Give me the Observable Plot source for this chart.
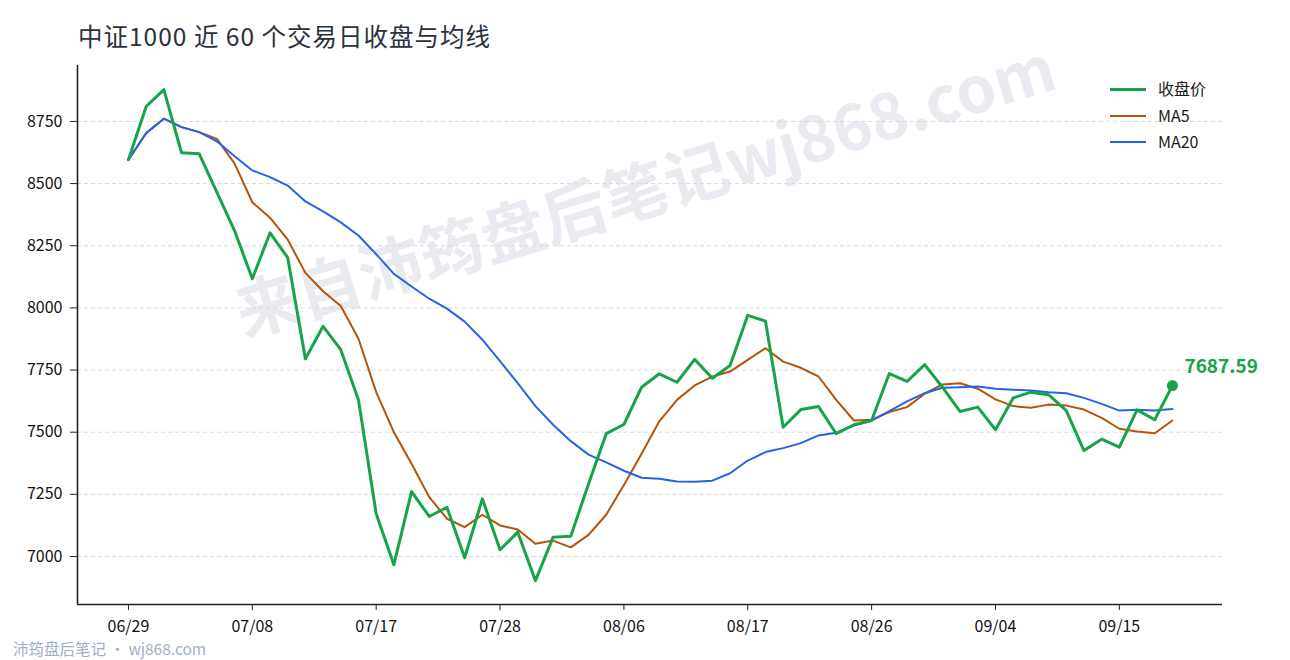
<!DOCTYPE html>
<html>
<head>
<meta charset="utf-8">
<script src="https://cdn.jsdelivr.net/npm/d3@7"></script>
<script src="https://cdn.jsdelivr.net/npm/@observablehq/plot@0.6"></script>
<style>
  html, body { margin: 0; padding: 0; background: #fff; }
  #wrap { position: relative; width: 1290px; height: 660px; overflow: hidden; font-family: "Noto Sans CJK SC", "Noto Sans", sans-serif; }
  #chart { position: absolute; left: 0; top: 0; }
  .title { position: absolute; left: 78px; top: 21px; font-size: 24.5px; letter-spacing: 1px; line-height: 30px; color: #2b313c; white-space: nowrap; }
  .footer { position: absolute; left: 13px; top: 638px; font-size: 15.5px; line-height: 20px; color: #a1afc6; white-space: nowrap; }
  .legend { position: absolute; left: 1110px; top: 0; }
  .legend .row { position: absolute; left: 0; height: 24px; width: 160px; }
  .legend .sw { position: absolute; left: 0; width: 36px; }
  .legend .lb { position: absolute; left: 48px; top: -1px; font-size: 16px; line-height: 24px; color: #1a1a1a; white-space: nowrap; }
</style>
</head>
<body>
<div id="wrap">
  <div id="chart"></div>
  <div class="title">中证1000 近 60 个交易日收盘与均线</div>
  <div class="legend" id="legend"></div>
  <div class="footer">沛筠盘后笔记 · wj868.com</div>
</div>
<script>
const dates = [
  "06/29","06/30","07/01","07/02","07/03",
  "07/06","07/07","07/08","07/09","07/10",
  "07/13","07/14","07/15","07/16","07/17",
  "07/20","07/21","07/22","07/23","07/24",
  "07/27","07/28","07/29","07/30","07/31",
  "08/03","08/04","08/05","08/06","08/07",
  "08/10","08/11","08/12","08/13","08/14",
  "08/17","08/18","08/19","08/20","08/21",
  "08/24","08/25","08/26","08/27","08/28",
  "08/31","09/01","09/02","09/03","09/04",
  "09/07","09/08","09/09","09/10","09/11",
  "09/14","09/15","09/16","09/17","09/18"
];
const close = [
  8596, 8810, 8878, 8624, 8620, 8465, 8310, 8117, 8302, 8202,
  7795, 7926, 7832, 7630, 7172, 6967, 7261, 7161, 7198, 6995,
  7232, 7027, 7098, 6903, 7078, 7082, 7292, 7494, 7531, 7681,
  7735, 7701, 7793, 7717, 7768, 7970, 7947, 7520, 7591, 7603,
  7494, 7530, 7547, 7736, 7704, 7772, 7681, 7583, 7601, 7510,
  7638, 7661, 7651, 7587, 7426, 7472, 7440, 7590, 7550, 7687.59
];
const ma5 = [
  8596, 8703, 8761, 8727, 8707, 8680, 8580, 8425, 8363, 8275,
  8141, 8067, 8008, 7876, 7661, 7500, 7373, 7239, 7152, 7118,
  7168, 7125, 7109, 7051, 7064, 7037, 7087, 7168, 7288, 7413,
  7544, 7630, 7688, 7724, 7744, 7791, 7838, 7784, 7759, 7724,
  7630, 7547, 7550, 7581, 7601, 7655, 7692, 7697, 7675, 7632,
  7605, 7598, 7611, 7607, 7591, 7558, 7514, 7503, 7496, 7547
];
const ma20 = [
  8596, 8703, 8761, 8727, 8707, 8670, 8610, 8553, 8526, 8492,
  8428, 8388, 8344, 8291, 8216, 8137, 8086, 8037, 7997, 7945,
  7872, 7786, 7697, 7605, 7530, 7464, 7410, 7379, 7345, 7317,
  7313, 7302, 7301, 7305, 7335, 7386, 7420, 7436, 7456, 7487,
  7498, 7527, 7547, 7585, 7624, 7657, 7679, 7681, 7684, 7675,
  7671, 7668, 7661, 7657, 7638, 7614, 7587, 7590, 7587, 7593
];
const yTicks = [7000, 7250, 7500, 7750, 8000, 8250, 8500, 8750];
const xTickIdx = [0, 7, 14, 21, 28, 35, 42, 49, 56];
const seriesNames = ["收盘价", "MA5", "MA20"];
const seriesColors = ["#16a34a", "#b45309", "#2563eb"];
const seriesWidths = [3, 2, 2];
const watermark = "来自沛筠盘后笔记wj868.com";

const idx = d3.range(close.length);
const rows = idx.map(i => ({i, date: dates[i], close: close[i], ma5: ma5[i], ma20: ma20[i]}));
const last = rows[rows.length - 1];
const xDomain = [-2.88, 61.83];
const yDomain = [6807, 8975];

const chart = Plot.plot({
  width: 1290,
  height: 660,
  marginLeft: 77,
  marginRight: 68,
  marginTop: 65,
  marginBottom: 56,
  style: {fontFamily: "'Noto Sans CJK SC', 'Noto Sans', sans-serif", fontSize: "16px", color: "#111", background: "transparent"},
  x: {type: "linear", domain: xDomain},
  y: {domain: yDomain},
  marks: [
    Plot.text([watermark], {frameAnchor: "middle", text: d => d, rotate: -17, fontSize: 64, fontWeight: 700, fill: "#e9ebf1", dx: -4, dy: -142}),
    Plot.gridY(yTicks, {stroke: "#d9d9d9", strokeOpacity: 1, strokeDasharray: "4,3", strokeWidth: 1}),
    Plot.axisY(yTicks, {tickSize: 7, tickPadding: 8, label: null, fontSize: 16, stroke: "#222", tickFormat: d => String(d)}),
    Plot.axisX(xTickIdx, {tickSize: 6, tickPadding: 10, label: null, fontSize: 16, tickFormat: i => dates[i], stroke: "#222"}),
    Plot.ruleX([xDomain[0]], {stroke: "#222", strokeWidth: 1.6}),
    Plot.ruleY([yDomain[0]], {stroke: "#222", strokeWidth: 1.6}),
    Plot.line(rows, {x: "i", y: "ma5", stroke: seriesColors[1], strokeWidth: seriesWidths[1]}),
    Plot.line(rows, {x: "i", y: "ma20", stroke: seriesColors[2], strokeWidth: seriesWidths[2]}),
    Plot.line(rows, {x: "i", y: "close", stroke: seriesColors[0], strokeWidth: seriesWidths[0]}),
    Plot.dot([last], {x: "i", y: "close", r: 5.5, fill: seriesColors[0]}),
    Plot.text([last], {x: "i", y: "close", text: d => d.close.toFixed(2), textAnchor: "start", dx: 12, dy: -19, fontSize: 19, fontWeight: 700, fill: seriesColors[0]})
  ]
});
document.getElementById("chart").appendChild(chart);

const legend = document.getElementById("legend");
const legendY = [89, 116, 142];
seriesNames.forEach((name, k) => {
  const row = document.createElement("div");
  row.className = "row";
  row.style.top = (legendY[k] - 12) + "px";
  const sw = document.createElement("div");
  sw.className = "sw";
  sw.style.height = seriesWidths[k] + "px";
  sw.style.top = (12 - seriesWidths[k] / 2) + "px";
  sw.style.background = seriesColors[k];
  const lb = document.createElement("div");
  lb.className = "lb";
  lb.textContent = name;
  row.appendChild(sw);
  row.appendChild(lb);
  legend.appendChild(row);
});
</script>
</body>
</html>
